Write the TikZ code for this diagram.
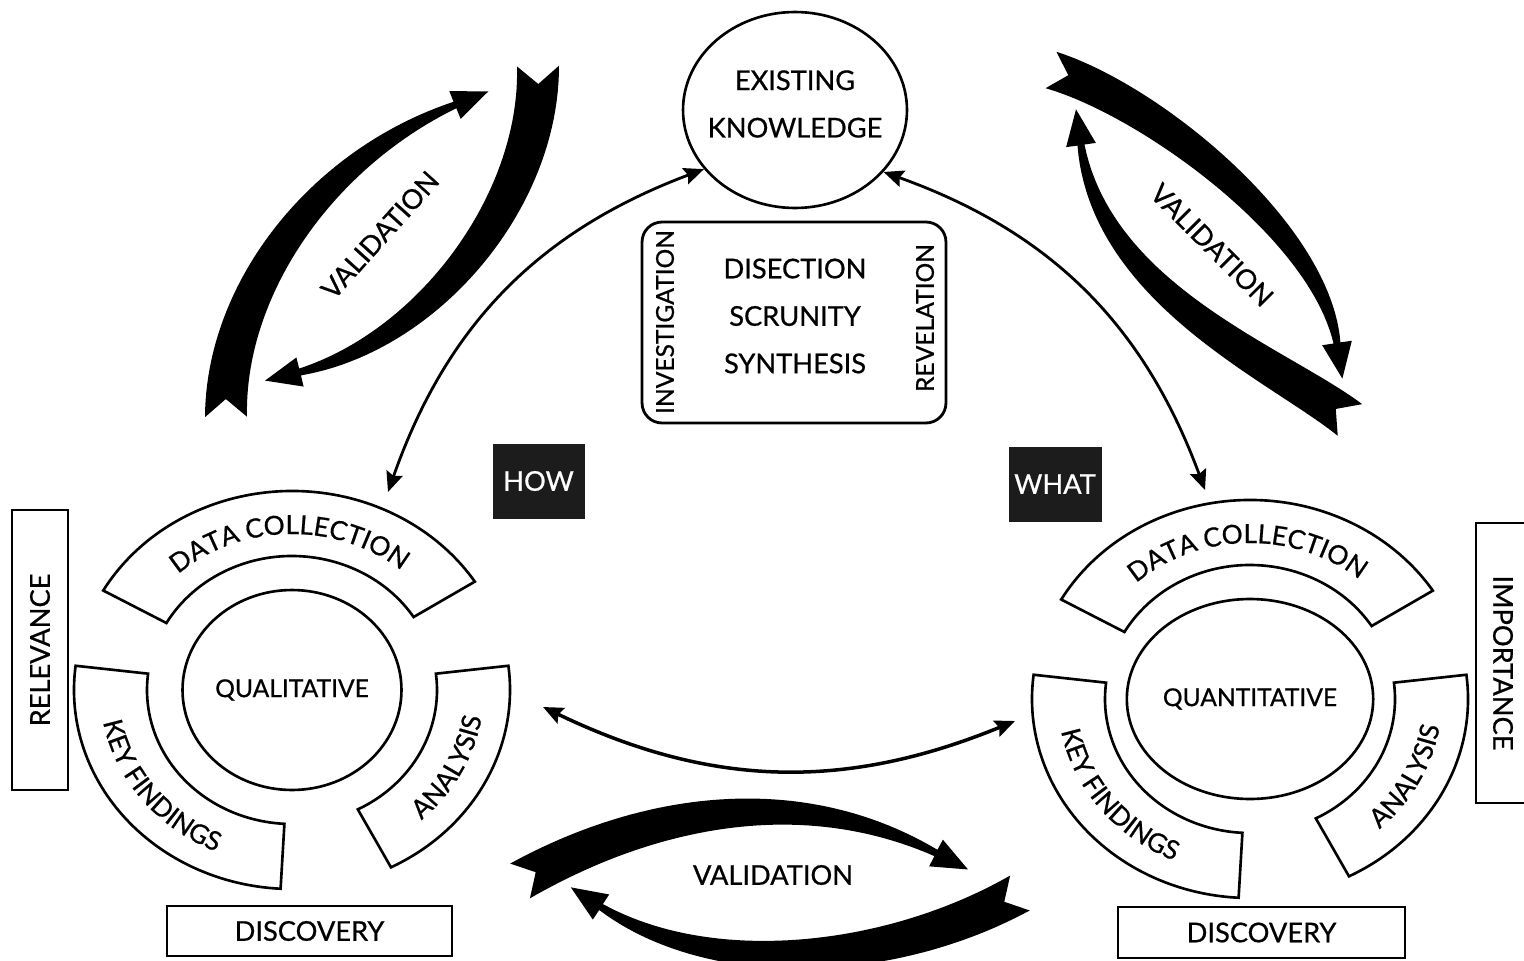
\documentclass[tikz,border=0pt]{standalone}
\usepackage{fontspec}
\setmainfont{Lato}[FakeBold=0.7]
\usetikzlibrary{arrows.meta,shapes.geometric,decorations.text,calc}

\definecolor{boxdark}{HTML}{1C1C1C}
\newcommand\lbl{\fontsize{15.5}{27}\selectfont}
\newcommand\slbl{\fontsize{14}{17}\selectfont}
\newcommand\rlbl{\fontsize{15}{18}\selectfont}

% cubic Bezier helpers for the tapered "swoosh" arrows
\tikzset{
  declare function={
    bzq(\s,\pa,\pb,\pc,\pd)=(1-\s)*(1-\s)*(1-\s)*\pa+3*(1-\s)*(1-\s)*\s*\pb+3*(1-\s)*\s*\s*\pc+\s*\s*\s*\pd;
    bzt(\s,\pa,\pb,\pc,\pd)=3*(1-\s)*(1-\s)*(\pb-\pa)+6*(1-\s)*\s*(\pc-\pb)+3*\s*\s*(\pd-\pc);
    swx(\s)=bzq(\s,\SAx,\SBx,\SCx,\SDx);
    swy(\s)=bzq(\s,\SAy,\SBy,\SCy,\SDy);
    swdx(\s)=bzt(\s,\SAx,\SBx,\SCx,\SDx);
    swdy(\s)=bzt(\s,\SAy,\SBy,\SCy,\SDy);
    swln(\s)=100*veclen(swdx(\s)/100,swdy(\s)/100);
    swhw(\s)=0.5*(\SWa+(\SWb-\SWa)*(0.3*\s+0.7*\s*\s));
    swlx(\s)=swx(\s)-swhw(\s)*swdy(\s)/swln(\s);
    swly(\s)=swy(\s)+swhw(\s)*swdx(\s)/swln(\s);
    swrx(\s)=swx(\s)+swhw(\s)*swdy(\s)/swln(\s);
    swry(\s)=swy(\s)-swhw(\s)*swdx(\s)/swln(\s);
  },
  lbl/.style={font=\lbl, text=black, inner sep=0pt},
  slbl/.style={font=\slbl, text=black, inner sep=0pt},
  outlinebox/.style={draw, line width=1.6pt, inner sep=0pt, font=\lbl},
  seg/.style={draw, line width=1.5pt, fill=white},
  darkbox/.style={fill=boxdark, draw=boxdark, text=white, font=\lbl, inner sep=0pt},
  conn/.style={line width=1.6pt,
    {Stealth[length=0.4cm,width=0.34cm,inset=0.06cm]}-{Stealth[length=0.4cm,width=0.34cm,inset=0.06cm]}},
  swooshfill/.style={fill=black},
}

% tapered arrow: swallow-tail at (#1,#2), controls (#3,#4) (#5,#6), head base (#7,#8), tail width #9
\newcommand\swoosh[9]{%
  \def\SAx{(#1)}\def\SAy{(-#2)}\def\SBx{(#3)}\def\SBy{(-#4)}%
  \def\SCx{(#5)}\def\SCy{(-#6)}\def\SDx{(#7)}\def\SDy{(-#8)}%
  \def\SWa{(#9)}\def\SWb{(7)}%
  \pgfmathsetmacro\SEl{100*veclen((\SDx-\SCx)/100,(\SDy-\SCy)/100)}%
  \pgfmathsetmacro\SEx{(\SDx-\SCx)/\SEl}%
  \pgfmathsetmacro\SEy{(\SDy-\SCy)/\SEl}%
  \pgfmathsetmacro\SSl{100*veclen((\SBx-\SAx)/100,(\SBy-\SAy)/100)}%
  \pgfmathsetmacro\SSx{(\SBx-\SAx)/\SSl}%
  \pgfmathsetmacro\SSy{(\SBy-\SAy)/\SSl}%
  \fill[swooshfill] plot[variable=\t,domain=0:1,samples=50] ({swlx(\t)},{swly(\t)})
    -- ({\SDx-(\SEy)*15},{\SDy+(\SEx)*15})
    -- ({\SDx+(\SEx)*36},{\SDy+(\SEy)*36})
    -- ({\SDx+(\SEy)*15},{\SDy-(\SEx)*15})
    -- plot[variable=\t,domain=0:1,samples=50] ({swrx(1-\t)},{swry(1-\t)})
    -- ({\SAx+(\SSx)*18},{\SAy+(\SSy)*18}) -- cycle;
}

% one research cycle: ring of three segments round a centre ellipse
\newcommand\studycycle[4]{%
  \begin{scope}[shift={(#1,-#2)}]
    \draw[seg] (150:218 and 199) arc[start angle=150,end angle=33,x radius=218,y radius=199]
      -- (33:145 and 134) arc[start angle=33,end angle=150,x radius=145,y radius=134] -- cycle;
    \draw[seg] (173:218 and 199) arc[start angle=173,end angle=267,x radius=218,y radius=199]
      -- (267:145 and 134) arc[start angle=267,end angle=173,x radius=145,y radius=134] -- cycle;
    \draw[seg] (-63:218 and 199) arc[start angle=-63,end angle=7,x radius=218,y radius=199]
      -- (7:145 and 134) arc[start angle=7,end angle=-63,x radius=145,y radius=134] -- cycle;
    \path[decorate,decoration={text along path,text align=center,text={|\rlbl|DATA COLLECTION}}]
      (140:170 and 156) arc[start angle=140,end angle=42,x radius=170,y radius=156];
    \path[decorate,decoration={text along path,text align=center,text={|\rlbl|KEY FINDINGS}}]
      (174:192 and 176) arc[start angle=174,end angle=262,x radius=192,y radius=176];
    \path[decorate,decoration={text along path,text align=center,text={|\rlbl|ANALYSIS}}]
      (-58:192 and 176) arc[start angle=-58,end angle=2,x radius=192,y radius=176];
    \node[draw, ellipse, line width=1.5pt, minimum width=4.38cm, minimum height=4cm,
          inner sep=0pt, font=\slbl] (#4) at (0,0) {#3};
  \end{scope}}

\begin{document}
\begin{tikzpicture}[x=0.02cm, y=0.02cm]
  \useasboundingbox (0,0) rectangle (1524,-960);

  % existing knowledge and the central box
  \node[draw, ellipse, line width=1.5pt, minimum width=4.48cm, minimum height=3.92cm, inner sep=0pt] (ek) at (795,-110) {};
  \node[lbl, align=center] (ektext) at (795,-104) {EXISTING\\KNOWLEDGE};
  \node[outlinebox, rounded corners=0.4cm, minimum width=6.08cm, minimum height=4.02cm] (core) at (794,-322.5) {};
  \node[lbl, align=center] (coretext) at (795,-316) {DISECTION\\SCRUNITY\\SYNTHESIS};
  \node[slbl, rotate=90] (invest) at (665,-322) {INVESTIGATION};
  \node[slbl, rotate=90] (reveal) at (925,-318) {REVELATION};

  % question boxes
  \node[darkbox, minimum width=1.82cm, minimum height=1.48cm] (how) at (538.5,-481) {HOW};
  \node[darkbox, minimum width=1.84cm, minimum height=1.48cm] (what) at (1055,-484) {WHAT};

  % side and bottom labels
  \node[outlinebox, rotate=90, minimum width=5.6cm, minimum height=1.12cm] (relevance) at (40,-650) {RELEVANCE};
  \node[outlinebox, rotate=-90, minimum width=5.6cm, minimum height=1.08cm] (importance) at (1503,-663) {IMPORTANCE};
  \node[outlinebox, minimum width=5.7cm, minimum height=1.0cm] (discL) at (309.5,-931) {DISCOVERY};
  \node[outlinebox, minimum width=5.74cm, minimum height=1.02cm] (discR) at (1261.5,-932.5) {DISCOVERY};

  % the two research cycles
  \studycycle{292}{690}{QUALITATIVE}{qual}
  \studycycle{1250}{699}{QUANTITATIVE}{quant}

  % connector ends at the cycles
  \coordinate (qualtop) at (388,-492);
  \coordinate (quanttop) at (1205,-490);
  \coordinate (qualmid) at (543,-707);
  \coordinate (quantmid) at (1015,-721);

  \draw[conn] (qualtop) to[bend left=25] (ek.213);
  \draw[conn] (ek.-35) to[bend left=25] (quanttop);
  \draw[conn, line width=2pt] (qualmid) to[bend right=24] (quantmid);

  % validation swooshes
  \swoosh{226}{417}{225}{290}{320}{160}{455}{105}{42}
  \swoosh{538}{66}{540}{200}{430}{340}{300}{372}{42}
  \swoosh{1051}{70}{1150}{100}{1320}{230}{1337}{343}{38}
  \swoosh{1350}{420}{1278}{364}{1102}{295}{1081}{145}{40}
  \swoosh{520}{881}{650}{808}{802}{784}{936}{853}{40}
  \swoosh{1020}{893}{889}{966}{710}{978}{601}{907}{40}

  \node[lbl, rotate=48] (valTL) at (380,-235) {VALIDATION};
  \node[lbl, rotate=-45] (valTR) at (1212,-245) {VALIDATION};
  \node[lbl] (valB) at (773,-875) {VALIDATION};
\end{tikzpicture}
\end{document}
